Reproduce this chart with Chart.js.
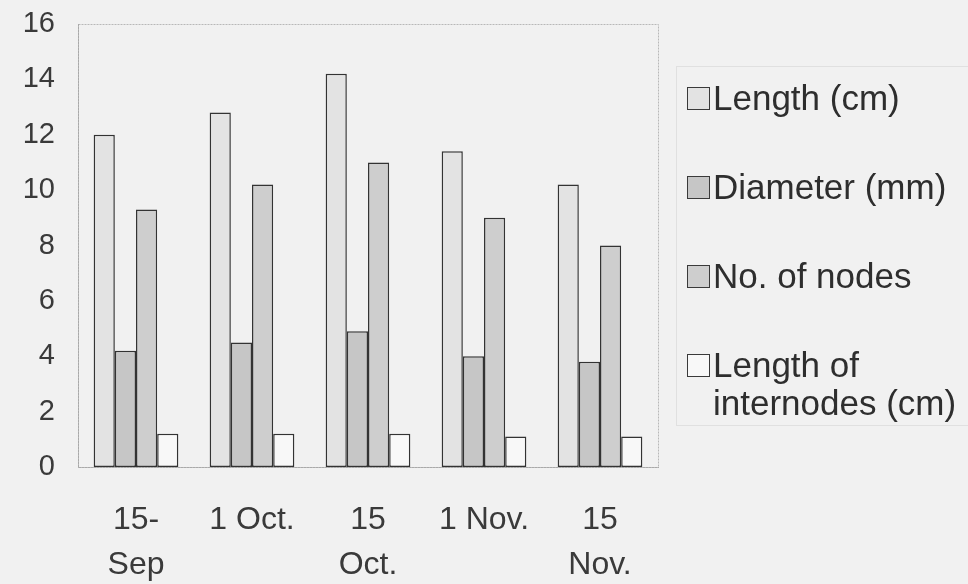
<!DOCTYPE html>
<html lang="en">
<head>
  <meta charset="UTF-8">
  <title>Growth by sampling date</title>
  <style>
    * {
      margin: 0;
      padding: 0;
      box-sizing: border-box;
    }

    body {
      background: #f1f1f1;
      width: 968px;
      height: 584px;
      overflow: hidden;
      font-family: 'Liberation Sans', Arial, sans-serif;
    }

    .wrap {
      position: relative;
      width: 968px;
      height: 584px;
    }

    canvas {
      display: block;
    }

    .legend {
      position: absolute;
      left: 676px;
      top: 66px;
      width: 300px;
      height: 360px;
      border: 1px solid #e0e0e0;
      border-right: none;
      padding: 12px 0 0 10px;
    }

    .legend-item {
      display: flex;
      align-items: flex-start;
      height: 89px;
      font-size: 35px;
      line-height: 38px;
      color: #2e2e2e;
    }

    .legend-item .box {
      width: 23px;
      height: 23px;
      margin-top: 8px;
      margin-right: 3px;
      border: 1.5px solid #3a3a3a;
      flex: none;
    }

    .legend-item span {
      white-space: pre-line;
    }
  </style>
</head>
<body>
  <div class="wrap">
    <canvas id="chart" width="968" height="584"></canvas>
    <div class="legend" id="legend"></div>
  </div>

  <script src="https://cdn.jsdelivr.net/npm/chart.js"></script>
  <script>
    // sampling dates (multi-line as printed under the axis)
    const dates = [['15-', 'Sep'], ['1 Oct.'], ['15', 'Oct.'], ['1 Nov.'], ['15', 'Nov.']];

    const seriesNames = ['Length (cm)', 'Diameter (mm)', 'No. of nodes', 'Length of\ninternodes (cm)'];
    const seriesColors = ['#e3e3e3', '#c6c6c6', '#cecece', '#f8f8f8'];

    const lengthCm = [12.0, 12.8, 14.2, 11.4, 10.2];
    const diameterMm = [4.2, 4.5, 4.9, 4.0, 3.8];
    const nodeCount = [9.3, 10.2, 11.0, 9.0, 8.0];
    const internodeCm = [1.2, 1.2, 1.2, 1.1, 1.1];

    const yTicks = [0, 2, 4, 6, 8, 10, 12, 14, 16];

    const allSeries = [lengthCm, diameterMm, nodeCount, internodeCm];

    // faint frame round the plot area (top and right edges of the printed box)
    const plotFrame = {
      id: 'plotFrame',
      beforeDatasetsDraw(chart) {
        const { ctx, chartArea: a } = chart;
        ctx.save();
        ctx.strokeStyle = '#b8b8b8';
        ctx.lineWidth = 1;
        ctx.setLineDash([2, 1]);
        ctx.strokeRect(a.left + 0.5, a.top + 0.5, a.right - a.left, a.bottom - a.top);
        ctx.restore();
      }
    };

    const ctx = document.getElementById('chart').getContext('2d');
    const chart = new Chart(ctx, {
      type: 'bar',
      data: {
        labels: dates,
        datasets: allSeries.map((vals, i) => ({
          label: seriesNames[i].replace('\n', ' '),
          data: vals,
          backgroundColor: seriesColors[i],
          borderColor: '#333333',
          borderWidth: 1.5,
          borderSkipped: false,
          categoryPercentage: 0.73,
          barPercentage: 1.0
        }))
      },
      options: {
        responsive: false,
        animation: false,
        layout: {
          autoPadding: false,
          padding: { top: 24, right: 310, bottom: 0, left: 0 }
        },
        plugins: {
          legend: { display: false },
          tooltip: { enabled: false }
        },
        scales: {
          x: {
            grid: { display: false },
            border: { display: true, color: '#9a9a9a' },
            ticks: {
              color: '#3a3a3a',
              padding: 23,
              maxRotation: 0,
              autoSkip: false,
              font: { family: "'Liberation Sans', Arial, sans-serif", size: 32, lineHeight: 1.4 }
            },
            afterFit(scale) { scale.height = 117; }
          },
          y: {
            min: 0,
            max: 16,
            grid: { display: false },
            border: { display: true, color: '#9a9a9a' },
            afterBuildTicks(scale) {
              scale.ticks = yTicks.map(v => ({ value: v }));
            },
            ticks: {
              color: '#3a3a3a',
              padding: 15,
              font: { family: "'Liberation Sans', Arial, sans-serif", size: 29 }
            },
            afterFit(scale) {
              scale.width = 78;
              // labels may overhang the plot top, the page has room for that
              scale.paddingTop = 0;
              scale.paddingBottom = 0;
            }
          }
        }
      },
      plugins: [plotFrame]
    });

    // HTML legend built from the dataset list
    const legend = document.getElementById('legend');
    seriesNames.forEach((name, i) => {
      const row = document.createElement('div');
      row.className = 'legend-item';
      const box = document.createElement('div');
      box.className = 'box';
      box.style.background = seriesColors[i];
      const txt = document.createElement('span');
      txt.textContent = name;
      row.appendChild(box);
      row.appendChild(txt);
      legend.appendChild(row);
    });
  </script>
</body>
</html>
